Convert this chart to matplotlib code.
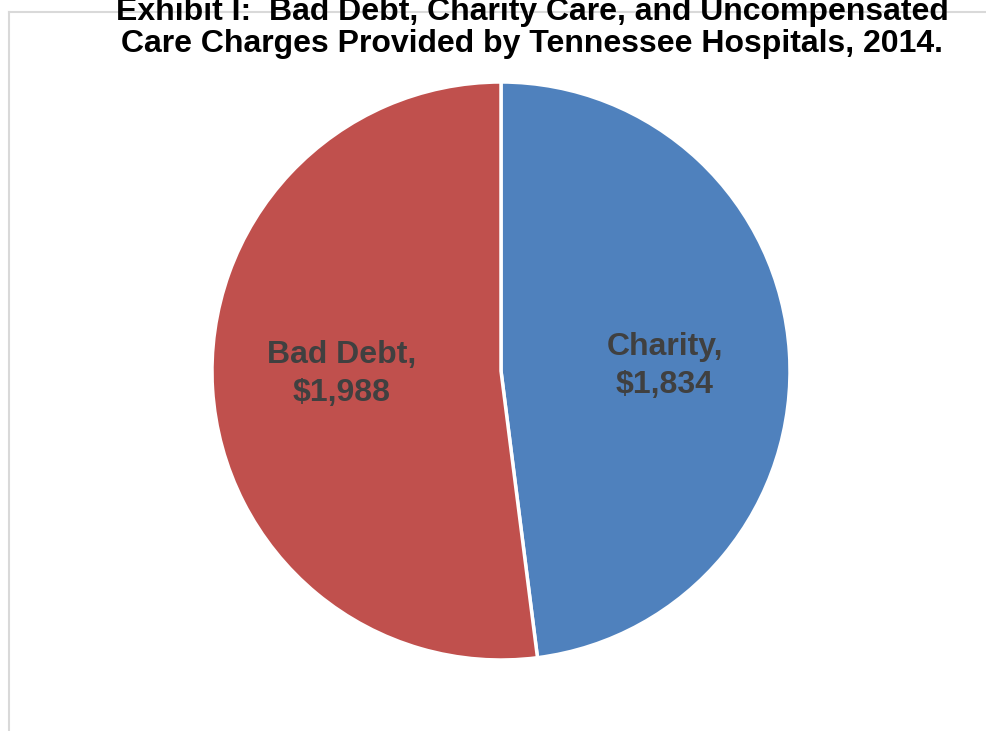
import matplotlib
matplotlib.use("Agg")
import matplotlib.pyplot as plt
from matplotlib.lines import Line2D

categories = ["Charity", "Bad Debt"]
values = [1834, 1988]
colors = ["#4f81bd", "#c0504d"]
title = "Exhibit I:  Bad Debt, Charity Care, and Uncompensated\nCare Charges Provided by Tennessee Hospitals, 2014."

plt.rcParams['font.family'] = ['Liberation Sans', 'DejaVu Sans']
W, H = 986, 731
fig = plt.figure(figsize=(W/100, H/100), dpi=100)
fig.patch.set_facecolor("white")

# border lines
fig.add_artist(Line2D([8.5/W, 1.0], [1 - 12/H, 1 - 12/H], transform=fig.transFigure, color="#d9d9d9", lw=1.5))
fig.add_artist(Line2D([8.5/W, 8.5/W], [0, 1 - 12/H], transform=fig.transFigure, color="#d9d9d9", lw=1.5))

cx, cy, r = 501, 371, 289
ax = fig.add_axes([(cx - r)/W, 1 - (cy + r)/H, 2*r/W, 2*r/H])
wedges, _ = ax.pie(values, colors=colors, startangle=90, counterclock=False,
                   wedgeprops=dict(edgecolor="white", linewidth=2.5), radius=1.0)
ax.set_xlim(-1, 1)
ax.set_ylim(-1, 1)
ax.set_aspect("equal")
ax.axis("off")

def fig_text(x, y, s, **kw):
    fig.text(x/W, 1 - y/H, s, **kw)

labels = [f"{c},\n${v:,}" for c, v in zip(categories, values)]
fig_text(665, 366, labels[0], ha="center", va="center", fontsize=23, fontweight="bold", color="#404040", linespacing=1.35)
fig_text(342, 374, labels[1], ha="center", va="center", fontsize=23, fontweight="bold", color="#404040", linespacing=1.35)

fig_text(532, 28, title, ha="center", va="center", fontsize=23, fontweight="bold", color="black", linespacing=1.12)

fig.savefig("out.png", dpi=100, facecolor="white")
